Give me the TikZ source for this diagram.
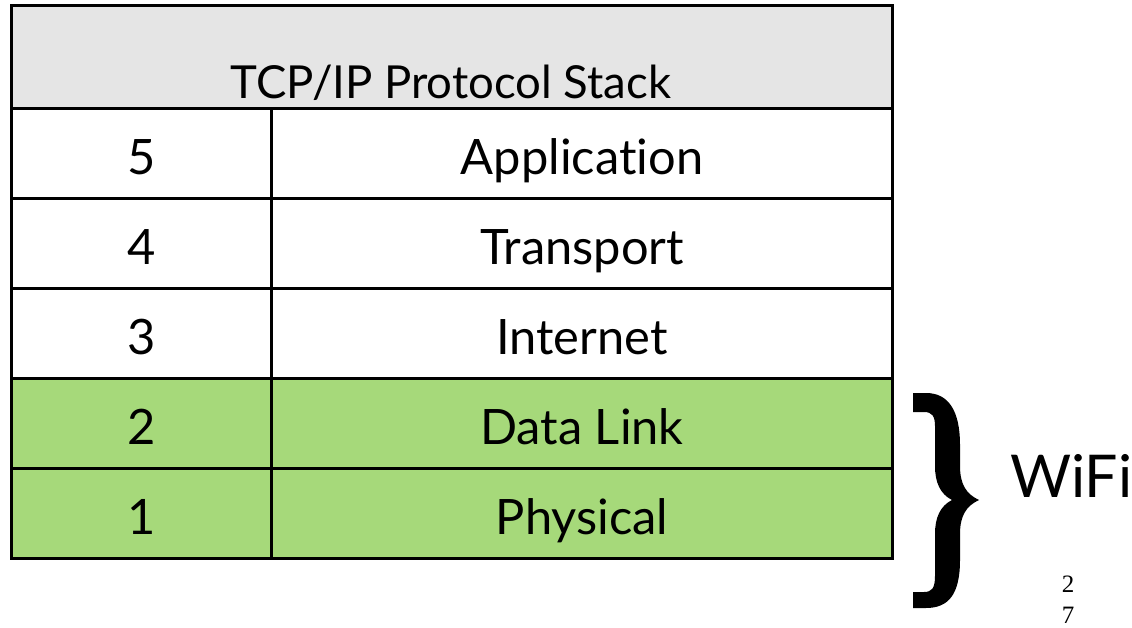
\documentclass[tikz,border=0pt]{standalone}
\usepackage{fontspec}
\setmainfont{Lato}[Ligatures=NoCommon]
\newfontfamily\pagefont{Liberation Serif}
\definecolor{layergreen}{RGB}{166,217,122}
\definecolor{headgray}{RGB}{229,229,229}
\tikzset{
  cell/.style={draw=black, line width=3pt, minimum height=90pt, inner sep=0pt,
    text height=42pt, text depth=0pt,
    anchor=north west, font=\fontsize{48.8}{52}\selectfont},
}

\begin{document}
\begin{tikzpicture}[x=1pt,y=-1pt]
\useasboundingbox (0,0) rectangle (1132,628);

% header
\node[cell, fill=headgray, minimum width=881pt, minimum height=103pt] (head) at (10,4) {};
\node[anchor=base, inner sep=0pt, font=\fontsize{45.5}{48}\selectfont] (title) at (451,99) {TCP/IP Protocol Stack};

% layers
\foreach \num/\name/\col [count=\i] in {5/Application/white,4/Transport/white,3/Internet/white,2/Data Link/layergreen,1/Physical/layergreen}{
  \node[cell, fill=\col, minimum width=260pt] (num\i) at (10,{107+90*(\i-1)}) {\num};
  \node[cell, fill=\col, minimum width=621pt] (name\i) at (270,{107+90*(\i-1)}) {\name};
}

% brace (filled outline)
\fill (913,393) -- (926,393) .. controls (948,393) and (960,410) .. (960,445)
  -- (960,466) .. controls (960,484) and (966,494) .. (979,500)
  .. controls (966,506) and (960,516) .. (960,534)
  -- (960,560) .. controls (960,595) and (948,608) .. (926,608) -- (913,608)
  -- (913,592) -- (924,592) .. controls (932,592) and (935,588) .. (935,576)
  -- (935,534) .. controls (935,518) and (940,506) .. (952,500)
  .. controls (940,494) and (935,482) .. (935,466)
  -- (935,426) .. controls (935,416) and (932,412) .. (924,412) -- (913,412) -- cycle;
\node[anchor=base west, inner sep=0pt, font=\fontsize{59}{62}\selectfont] (wifi) at (1010,497) {WiFi};

% slide number
\node[align=center, inner sep=0pt, font=\pagefont\fontsize{25}{31}\selectfont] (pageno) at (1068,600) {2\\7};
\end{tikzpicture}
\end{document}
